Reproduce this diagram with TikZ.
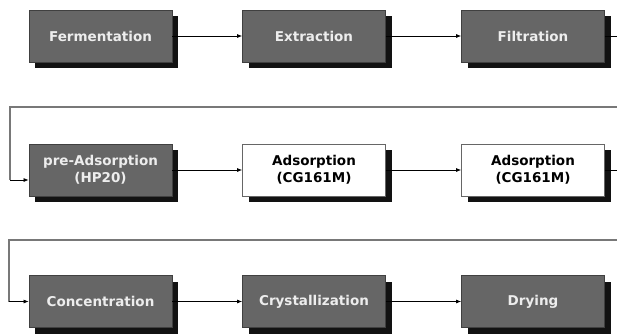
\documentclass[tikz,border=0pt]{standalone}
\usepackage{fontspec}
\setmainfont{DejaVu Sans}
\usetikzlibrary{shadows,arrows.meta}
\definecolor{boxgray}{RGB}{102,102,102}
\definecolor{shadowblack}{RGB}{18,18,18}
\definecolor{linegray}{RGB}{120,120,120}
\begin{document}
\begin{tikzpicture}[x=1pt,y=1pt,
  procbox/.style={draw=black!75, line width=0.8pt, minimum width=143pt, minimum height=52pt,
    align=center, font=\fontsize{13.5}{16.5}\selectfont\bfseries, inner sep=0pt,
    drop shadow={shadow xshift=6pt, shadow yshift=-6pt, fill=shadowblack, opacity=1}},
  darkbox/.style={procbox, fill=boxgray, text=white!93!black},
  lightbox/.style={procbox, fill=white, text=black, draw=black!60},
  flow/.style={draw=black, line width=0.7pt, -{Latex[length=5pt,width=4pt]}},
  ret/.style={draw=linegray, line width=1.1pt}]
\useasboundingbox (0,0) rectangle (617,-335);
\node[darkbox] (ferm) at (100.5,-36) {Fermentation};
\node[darkbox] (extr) at (314,-36) {Extraction};
\node[darkbox] (filt) at (533,-36) {Filtration};
\node[darkbox] (pre) at (100.5,-170) {pre-Adsorption\\(HP20)};
\node[lightbox] (ads1) at (314,-170) {Adsorption\\(CG161M)};
\node[lightbox] (ads2) at (533,-170) {Adsorption\\(CG161M)};
\node[darkbox] (conc) at (100.5,-301.5) {Concentration};
\node[darkbox] (crys) at (314,-301.5) {Crystallization};
\node[darkbox] (dry) at (533,-301.5) {Drying};
\coordinate (e1) at (617,-36);
\coordinate (e2) at (617,-170);
\coordinate (r1a) at (617,-107);
\coordinate (r1b) at (10,-107);
\coordinate (r2a) at (617,-240);
\coordinate (r2b) at (9,-240);
\draw[flow] (ferm) -- (extr);
\draw[flow] (extr) -- (filt);
\draw[draw=black, line width=0.7pt] (filt.east) -- (e1);
\draw[flow] (pre) -- (ads1);
\draw[flow] (ads1) -- (ads2);
\draw[draw=black, line width=0.7pt] (ads2.east) -- (e2);
\draw[flow] (conc) -- (crys);
\draw[flow] (crys) -- (dry);
\draw[ret] (r1a) -- (r1b) -- ++(0,-73);
\draw[flow] ([yshift=-10pt]r1b |- pre.west) -- ([yshift=-10pt]pre.west);
\draw[ret] (r2a) -- (r2b) -- (r2b |- conc.west);
\draw[flow] (r2b |- conc.west) -- (conc.west);
\end{tikzpicture}
\end{document}
